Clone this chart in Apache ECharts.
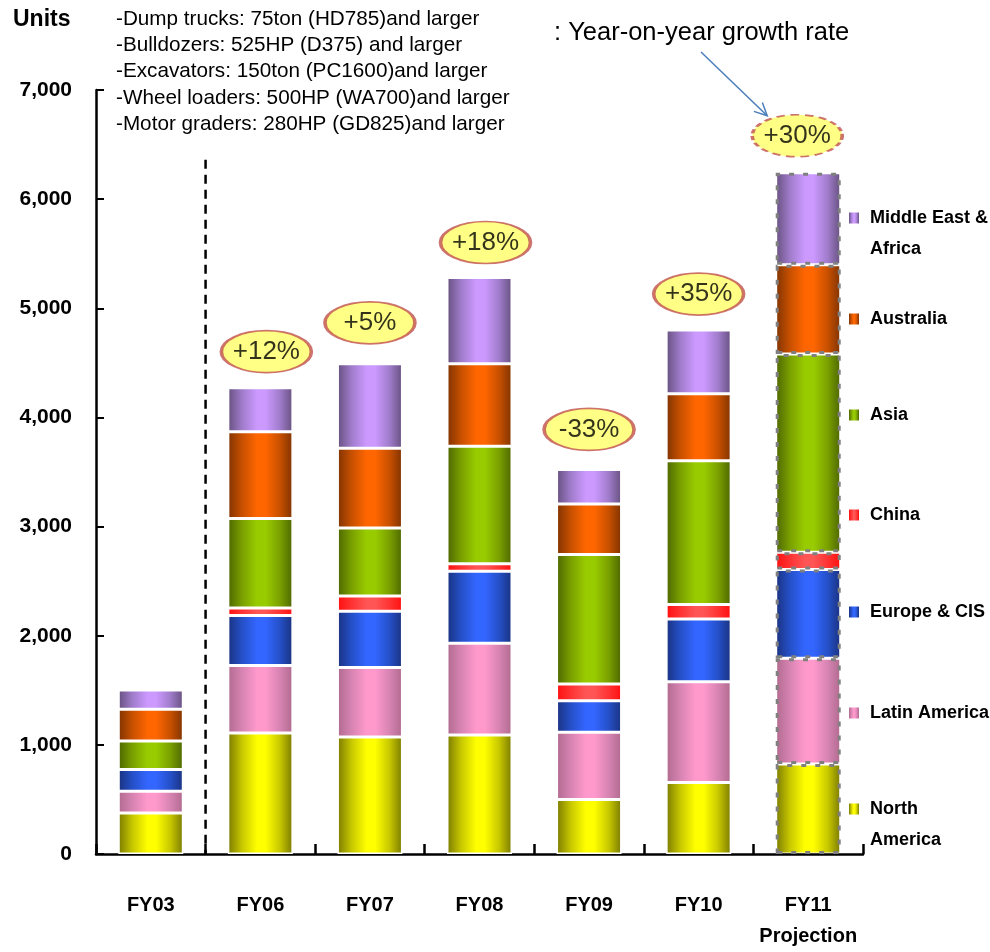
<!DOCTYPE html>
<html><head><meta charset="utf-8">
<script src="https://cdn.jsdelivr.net/npm/echarts@6/dist/echarts.min.js"></script>
<style>html,body{margin:0;padding:0;background:#fff}#c{width:990px;height:952px}</style>
</head><body><div id="c"></div>
<script>
// ---- data ----
const categories = ['FY03', 'FY06', 'FY07', 'FY08', 'FY09', 'FY10', 'FY11\nProjection'];
const northAmerica     = [375, 1109, 1073, 1091, 500, 655, 825];
const latinAmerica     = [200, 618, 636, 841, 615, 924, 969];
const europeCIS        = [200, 459, 516, 659, 288, 573, 812];
const china            = [0, 69, 139, 68, 154, 133, 158];
const asia             = [261, 818, 624, 1077, 1188, 1318, 1818];
const australia        = [291, 795, 730, 755, 461, 615, 818];
const middleEastAfrica = [176, 405, 773, 791, 318, 582, 842];
const growthRates      = ['', '+12%', '+5%', '+18%', '-33%', '+35%', '+30%'];
const yTickValues      = [0, 1000, 2000, 3000, 4000, 5000, 6000, 7000];
const notes = [
  '-Dump trucks: 75ton (HD785)and larger',
  '-Bulldozers: 525HP (D375) and larger',
  '-Excavators: 150ton (PC1600)and larger',
  '-Wheel loaders: 500HP (WA700)and larger',
  '-Motor graders: 280HP (GD825)and larger'
];

// ---- styling ----
const FONT = "'Liberation Sans', Arial, sans-serif";
function grad(dark, mid, light) {
  return new echarts.graphic.LinearGradient(0, 0, 1, 0, [
    {offset: 0, color: dark}, {offset: 0.22, color: mid},
    {offset: 0.45, color: light}, {offset: 0.58, color: light},
    {offset: 0.8, color: mid}, {offset: 1, color: dark}
  ]);
}
const seriesDefs = [
  {name: 'North America', data: northAmerica, c: grad('#7a7a00', '#c8c800', '#ffff00'), label: 'North\nAmerica', icon: 809},
  {name: 'Latin America', data: latinAmerica, c: grad('#b06a8f', '#d784b2', '#ff99cc'), label: 'Latin America', icon: 713},
  {name: 'Europe & CIS', data: europeCIS, c: grad('#1a3280', '#2550c8', '#3366ff'), label: 'Europe & CIS', icon: 612},
  {name: 'China', data: china, c: grad('#ff0f0f', '#ff3333', '#ff5555'), label: 'China', icon: 515},
  {name: 'Asia', data: asia, c: grad('#4d6600', '#7aa000', '#99cc00'), label: 'Asia', icon: 415},
  {name: 'Australia', data: australia, c: grad('#7f3300', '#c85000', '#ff6600'), label: 'Australia', icon: 319},
  {name: 'Middle East & Africa', data: middleEastAfrica, c: grad('#66507f', '#a07ccb', '#cc99ff'), label: 'Middle East &\nAfrica', icon: 218}
];
const lastIdx = categories.length - 1;

const totals = categories.map((_, i) => seriesDefs.reduce((s, d) => s + d.data[i], 0));
const ellipseShift = [[0, 0], [6, -36], [0, -41], [6, -35], [0, -40], [0, -36], [-11, -37]];

const chart = echarts.init(document.getElementById('c'), null, {renderer: 'canvas'});

const barSeries = seriesDefs.map(d => ({
  name: d.name,
  type: 'bar',
  stack: 'total',
  barWidth: 65,
  itemStyle: {color: d.c, borderColor: '#ffffff', borderWidth: 1.5},
  emphasis: {disabled: true},
  data: d.data.map((v, i) => i === lastIdx
    ? {value: v, itemStyle: {borderColor: '#808080', borderWidth: 3, borderType: [5, 9]}}
    : v)
}));

const growthSeries = {
  type: 'scatter',
  z: 5,
  symbol: 'circle',
  symbolSize: [90, 42],
  itemStyle: {color: '#ffff66', borderColor: '#c0504d', borderWidth: 2.5},
  label: {
    show: true, position: 'inside', color: '#000', fontSize: 26, fontFamily: FONT,
    formatter: p => growthRates[p.dataIndex]
  },
  emphasis: {disabled: true},
  data: totals.map((t, i) => growthRates[i] === '' ? '-' : {
    value: t,
    symbolOffset: ellipseShift[i],
    itemStyle: i === lastIdx ? {borderType: [6, 4], borderWidth: 2.5} : {}
  })
};

// two-line legend entries: square sits at the top of a taller icon box so it lines up with the first text line
const LINE_H = 31;
const legends = seriesDefs.map(d => {
  const two = d.label.indexOf('\n') >= 0;
  return {
    left: 849,
    top: d.icon - 15.5,
    orient: 'vertical',
    padding: 0,
    itemGap: 0,
    itemWidth: 10,
    itemHeight: two ? 11 + LINE_H : 11,
    icon: two ? 'path://M0,0L10,0L10,11L0,11Z M0,42L0.01,42L0.01,42.01Z' : 'rect',
    selectedMode: false,
    data: [d.name],
    itemStyle: {borderWidth: 0},
    formatter: () => d.label,
    textStyle: {
      fontSize: 18, fontWeight: 'bold', fontFamily: FONT, color: '#000',
      lineHeight: LINE_H, padding: [0, 0, 0, 6]
    }
  };
});

chart.setOption({
  animation: false,
  backgroundColor: '#ffffff',
  grid: {left: 96, right: 127, top: 90, bottom: 92, containLabel: false},
  legend: legends,
  xAxis: {
    type: 'category',
    data: categories,
    boundaryGap: true,
    axisLine: {lineStyle: {color: '#000', width: 2.5}},
    axisTick: {show: true, inside: true, length: 10, interval: 0, lineStyle: {color: '#000', width: 2.5}},
    axisLabel: {color: '#000', fontSize: 20, fontWeight: 'bold', fontFamily: FONT, margin: 36, lineHeight: 31, interval: 0}
  },
  yAxis: {
    type: 'value',
    min: yTickValues[0],
    max: yTickValues[yTickValues.length - 1],
    interval: yTickValues[1] - yTickValues[0],
    axisLine: {show: true, lineStyle: {color: '#000', width: 2.5}},
    axisTick: {show: true, inside: true, length: 8, lineStyle: {color: '#000', width: 2}},
    splitLine: {show: false},
    axisLabel: {color: '#000', fontSize: 21, fontWeight: 'bold', fontFamily: FONT, margin: 24}
  },
  series: barSeries.concat([growthSeries])
});

// ---- annotations positioned from the chart's own scales ----
const p03 = chart.convertToPixel({xAxisIndex: 0, yAxisIndex: 0}, [0, 0]);
const p06 = chart.convertToPixel({xAxisIndex: 0, yAxisIndex: 0}, [1, 0]);
const divX = (p03[0] + p06[0]) / 2;
const divTop = chart.convertToPixel({yAxisIndex: 0}, 6360);
const pE = chart.convertToPixel({xAxisIndex: 0, yAxisIndex: 0}, [lastIdx, totals[lastIdx]]);
const eCx = pE[0] + ellipseShift[lastIdx][0], eCy = pE[1] + ellipseShift[lastIdx][1];
const arrEnd = [eCx - 30, eCy - 20];
const arrStart = [701, 52];
const ang = Math.atan2(arrEnd[1] - arrStart[1], arrEnd[0] - arrStart[0]);
const ah = 14, aw = 0.45;
const head = [
  [arrEnd[0] - ah * Math.cos(ang - aw), arrEnd[1] - ah * Math.sin(ang - aw)],
  arrEnd,
  [arrEnd[0] - ah * Math.cos(ang + aw), arrEnd[1] - ah * Math.sin(ang + aw)]
];

chart.setOption({
  graphic: [
    {type: 'line', z: 1, shape: {x1: divX, y1: divTop, x2: divX, y2: p03[1]},
      style: {stroke: '#000', lineWidth: 2.5, lineDash: [9, 6]}},
    {type: 'text', left: 13, top: 8, style: {text: 'Units', font: "bold 23px " + FONT, fill: '#000'}},
    {type: 'text', left: 116, top: 6, style: {text: notes.join('\n'), font: "20.7px " + FONT, fill: '#000', lineHeight: 26.3}},
    {type: 'text', left: 554, top: 20, style: {text: ': Year-on-year growth rate', font: "25.5px " + FONT, fill: '#000'}},
    {type: 'line', shape: {x1: arrStart[0], y1: arrStart[1], x2: arrEnd[0], y2: arrEnd[1]},
      style: {stroke: '#4a7ebb', lineWidth: 1.5}},
    {type: 'polyline', shape: {points: head}, style: {stroke: '#4a7ebb', lineWidth: 1.5, fill: null}}
  ]
});
</script>
</body></html>
